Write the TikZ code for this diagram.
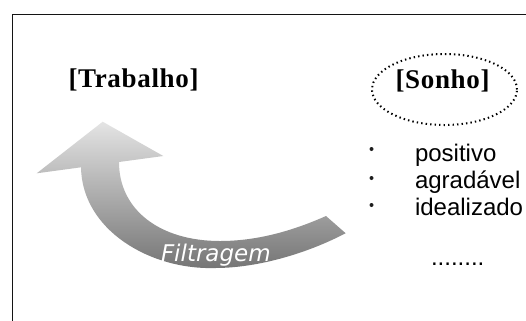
\documentclass[tikz,border=0pt]{standalone}
\usepackage{fontspec}
\setmainfont{Liberation Serif}
\newfontfamily\headfont{Liberation Serif}[LetterSpace=2.5]
\newfontfamily\listfont{Liberation Sans}
\newfontfamily\labelfont{DejaVu Sans}
\usetikzlibrary{shapes.geometric}

\definecolor{framegray}{RGB}{20,20,20}
\definecolor{arrowlight}{RGB}{228,228,228}
\definecolor{arrowmid}{RGB}{186,186,186}
\definecolor{arrowdark}{RGB}{116,116,116}
\definecolor{bulletgray}{RGB}{30,30,30}

\tikzset{
  heading/.style={inner sep=0pt, outer sep=0pt, anchor=base west,
    font=\headfont\bfseries\fontsize{27bp}{32bp}\selectfont},
  listitem/.style={inner sep=0pt, outer sep=0pt, anchor=base west,
    font=\listfont\fontsize{24bp}{28bp}\selectfont},
  bulletdot/.style={circle, fill=bulletgray, minimum size=4bp, inner sep=0pt},
  dreamring/.style={ellipse, draw=black, line width=2bp,
    dash pattern=on 1.4bp off 3.1bp, minimum width=145bp, minimum height=71bp,
    inner sep=0pt},
  arrowlabel/.style={inner sep=0pt, outer sep=0pt, anchor=base west, text=white,
    font=\labelfont\itshape\fontsize{23bp}{27bp}\selectfont},
  frameline/.style={draw=framegray, line width=1.8bp},
}

\begin{document}
\begin{tikzpicture}[x=1bp, y=-1bp]
  \useasboundingbox (0,0) rectangle (526,320);
  \clip (0,0) rectangle (526,320);

  % outer frame, running off the right and bottom edges
  \draw[frameline] (12.5,14.5) rectangle (560,360);

  % curved filtering arrow with vertical gray gradient
  \shade[top color=arrowlight, middle color=arrowmid, bottom color=arrowdark]
    (102.7,121.7) -- (163.3,156) -- (119,162)
    .. controls (119,210) and (160,241) .. (220,241)
    .. controls (255,241) and (290,232) .. (326,216)
    -- (345.6,233.2)
    .. controls (310,252) and (260,268) .. (215,268)
    .. controls (150,270) and (82,230) .. (81,167.3)
    -- (36.7,173.3) -- cycle;

  \node[arrowlabel] (filtragem) at (161,261.7) {Filtragem};

  % headings
  \node[heading] (trabalho) at (68.5,87) {[Trabalho]};
  \node[heading] (sonho) at (395.5,88) {[Sonho]};
  \node[dreamring] (sonhoring) at (444.5,89.5) {};

  % qualities of the dream
  \node[bulletdot] (b1) at (371.5,149) {};
  \node[bulletdot] (b2) at (371.5,178) {};
  \node[bulletdot] (b3) at (371.5,205) {};
  \node[listitem] (positivo) at (415,161) {positivo};
  \node[listitem] (agradavel) at (415,188) {agradável};
  \node[listitem] (idealizado) at (415,215) {idealizado};
  \node[listitem] (etc) at (431,265) {........};
\end{tikzpicture}
\end{document}
